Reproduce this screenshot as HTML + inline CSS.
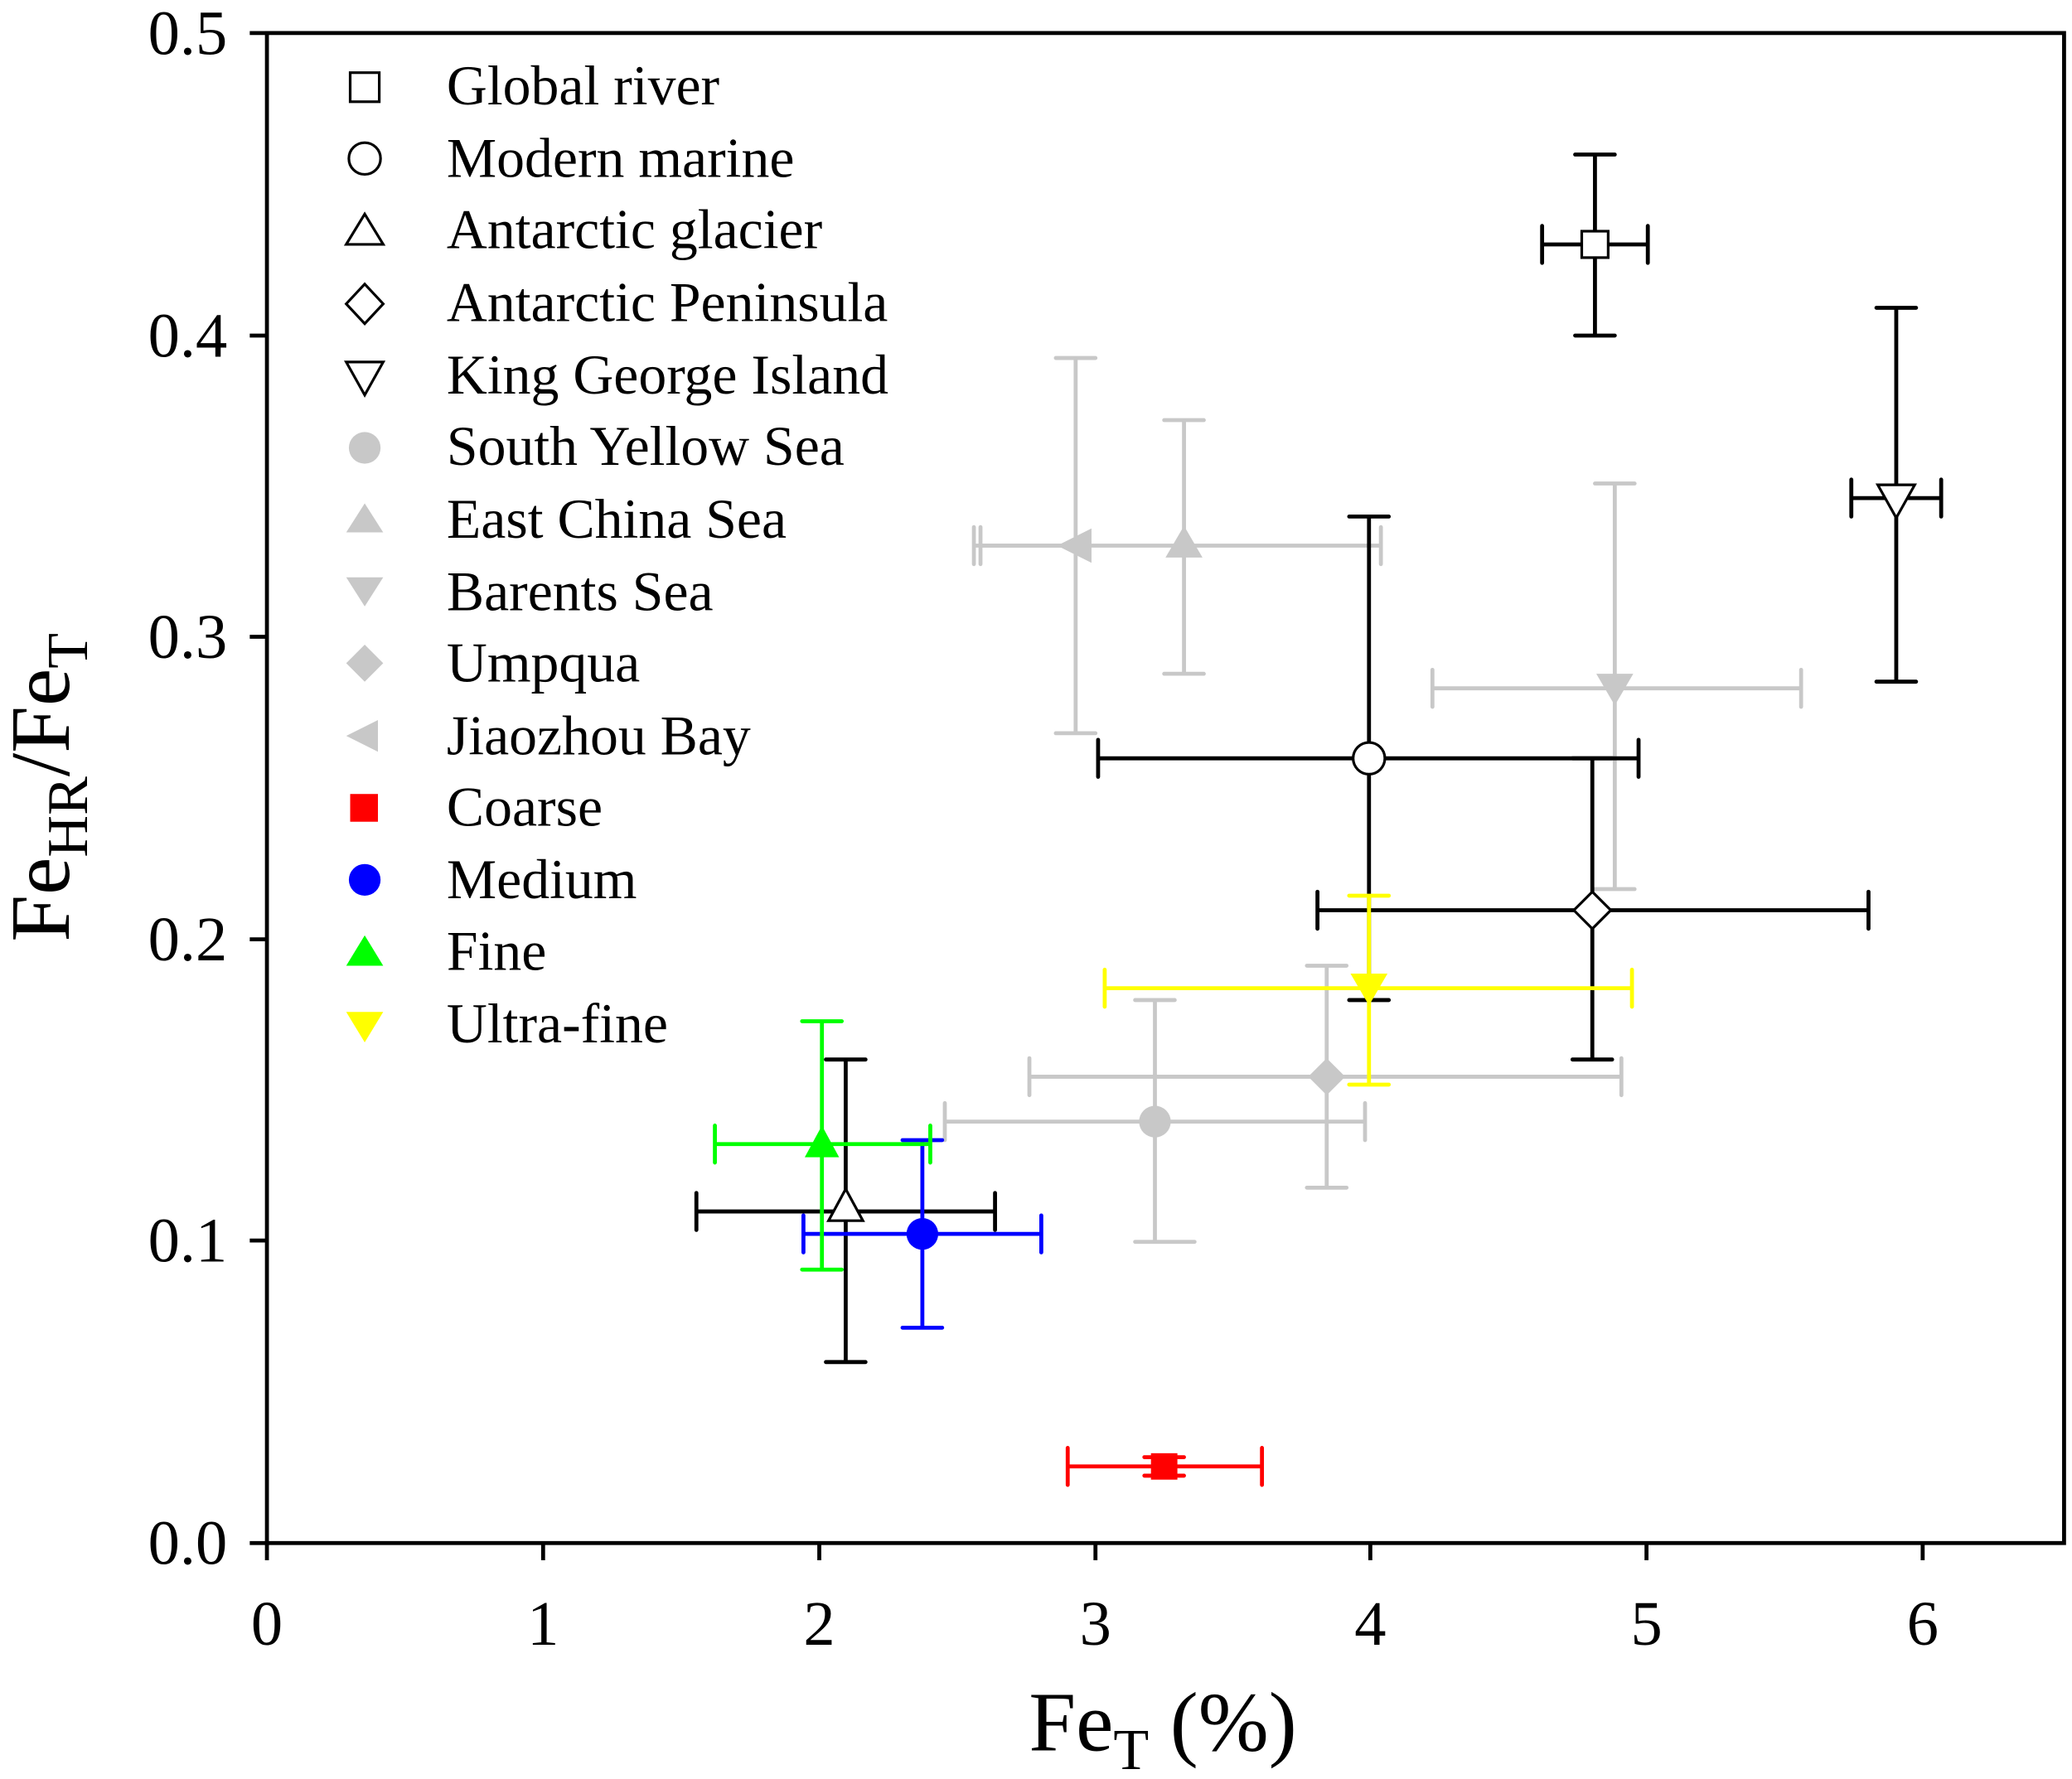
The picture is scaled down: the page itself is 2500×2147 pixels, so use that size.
<!DOCTYPE html>
<html><head><meta charset="utf-8"><style>html,body{margin:0;padding:0;background:#fff}svg{display:block}</style></head>
<body>
<svg width="2500" height="2147" viewBox="0 0 1568 1346.6" xmlns="http://www.w3.org/2000/svg" font-family="'Liberation Serif', serif">
<rect width="1568" height="1347" fill="#fff"/>
<g fill="none" stroke-width="3" stroke-linecap="round">
<g stroke="#c8c8c8">
<path d="M715 849H1033M715 835V863M1033 835V863M874 757V940M859 757H889M859 940H904"/>
<path d="M742 413H1045M742 399V427M1045 399V427M896 318V510M881 318H911M881 510H911"/>
<path d="M1084 521H1363M1084 507V535M1363 507V535M1222 366V673M1207 366H1237M1207 673H1237"/>
<path d="M779 815H1227M779 801V829M1227 801V829M1004 731V899M989 731H1019M989 899H1019"/>
<path d="M737 413H814M737 399V427M814 271V555M799 271H829M799 555H829"/>
</g>
<g stroke="#000">
<path d="M1167 185H1247M1167 171V199M1247 171V199M1207 117V254M1192 117H1222M1192 254H1222"/>
<path d="M831 574H1240M831 560V588M1240 560V588M1036 391V757M1021 391H1051M1021 757H1051"/>
<path d="M527 917H753M527 903V931M753 903V931M640 802V1031M625 802H655M625 1031H655"/>
<path d="M997 689H1414M997 675V703M1414 675V703M1205 574V802M1190 574H1220M1190 802H1220"/>
<path d="M1401 377H1469M1401 363V391M1469 363V391M1435 233V516M1420 233H1450M1420 516H1450"/>
</g>
<path stroke="#ff0000" d="M808 1110H955M808 1096V1124M955 1096V1124M881 1103V1117M866 1103H896M866 1117H896"/>
<path stroke="#0000ff" d="M608 934H788M608 920V948M788 920V948M698 863V1005M683 863H713M683 1005H713"/>
<path stroke="#00ff00" d="M541 866H704M541 852V880M704 852V880M622 773V961M607 773H637M607 961H637"/>
<path stroke="#ffff00" d="M836 748H1235M836 734V762M1235 734V762M1036 678V821M1021 678H1051M1021 821H1051"/>
</g>
<g fill="#c8c8c8">
<circle cx="874" cy="849" r="12"/>
<path d="M896 398L910 422H882Z"/>
<path d="M1222 534L1236 510H1208Z"/>
<path d="M1004 801L1018 815L1004 829L990 815Z"/>
<path d="M800 413L826 400V426Z"/>
</g>
<g fill="#fff" stroke="#000" stroke-width="2">
<rect x="1197" y="175" width="20" height="20"/>
<circle cx="1036" cy="574" r="12"/>
<path d="M640 900L653 924H627Z"/>
<path d="M1205 675L1219 689L1205 703L1191 689Z"/>
<path d="M1435 392L1449 367H1421Z"/>
</g>
<rect x="871" y="1100" width="20" height="20" fill="#ff0000"/>
<circle cx="698" cy="934" r="12" fill="#0000ff"/>
<path d="M622 852L635 876H609Z" fill="#00ff00"/>
<path d="M1036 761L1050 737H1022Z" fill="#ffff00"/>
<rect x="202" y="25" width="1360" height="1143" fill="none" stroke="#000" stroke-width="3"/>
<g stroke="#000" stroke-width="3">
<path d="M202 1168V1181M411 1168V1181M620 1168V1181M829 1168V1181M1037 1168V1181M1246 1168V1181M1455 1168V1181"/>
<path d="M189 1168H202M189 939H202M189 711H202M189 482H202M189 254H202M189 25H202"/>
</g>
<g font-size="48" text-anchor="middle">
<text x="202" y="1245">0</text><text x="411" y="1245">1</text><text x="620" y="1245">2</text><text x="829" y="1245">3</text><text x="1037" y="1245">4</text><text x="1246" y="1245">5</text><text x="1455" y="1245">6</text>
</g>
<g font-size="48" text-anchor="end">
<text x="172" y="1184">0.0</text><text x="172" y="955">0.1</text><text x="172" y="727">0.2</text><text x="172" y="498">0.3</text><text x="172" y="270">0.4</text><text x="172" y="41">0.5</text>
</g>
<text x="880" y="1325" font-size="64" text-anchor="middle">Fe<tspan font-size="44" dy="14">T</tspan><tspan dy="-14"> (%)</tspan></text>
<text transform="translate(52 596) rotate(-90)" font-size="64" text-anchor="middle">Fe<tspan font-size="44" dy="14">HR</tspan><tspan dy="-14">/Fe</tspan><tspan font-size="44" dy="14">T</tspan></text>
<g fill="#fff" stroke="#000" stroke-width="2">
<rect x="265" y="55" width="22" height="22"/>
<circle cx="276" cy="120" r="12"/>
<path d="M276 162L290 185H262Z"/>
<path d="M276 215L290 230L276 245L262 230Z"/>
<path d="M276 299L290 274H262Z"/>
</g>
<g fill="#c8c8c8">
<circle cx="276" cy="339" r="12"/>
<path d="M276 381L290 403H262Z"/>
<path d="M276 459L290 437H262Z"/>
<path d="M276 488L290 502L276 516L262 502Z"/>
<path d="M262 557L286 545V569Z"/>
</g>
<rect x="265" y="601" width="21" height="21" fill="#ff0000"/>
<circle cx="276" cy="666" r="12" fill="#0000ff"/>
<path d="M276 708L290 731H262Z" fill="#00ff00"/>
<path d="M276 789L290 766H262Z" fill="#ffff00"/>
<g font-size="42.5">
<text x="338" y="79">Global river</text>
<text x="338" y="134">Modern marine</text>
<text x="338" y="188">Antarctic glacier</text>
<text x="338" y="243">Antarctic Peninsula</text>
<text x="338" y="298">King George Island</text>
<text x="338" y="352">South Yellow Sea</text>
<text x="338" y="407">East China Sea</text>
<text x="338" y="462">Barents Sea</text>
<text x="338" y="516">Umpqua</text>
<text x="338" y="571">Jiaozhou Bay</text>
<text x="338" y="625">Coarse</text>
<text x="338" y="680">Medium</text>
<text x="338" y="734">Fine</text>
<text x="338" y="789">Ultra-fine</text>
</g>
</svg>
</body></html>
